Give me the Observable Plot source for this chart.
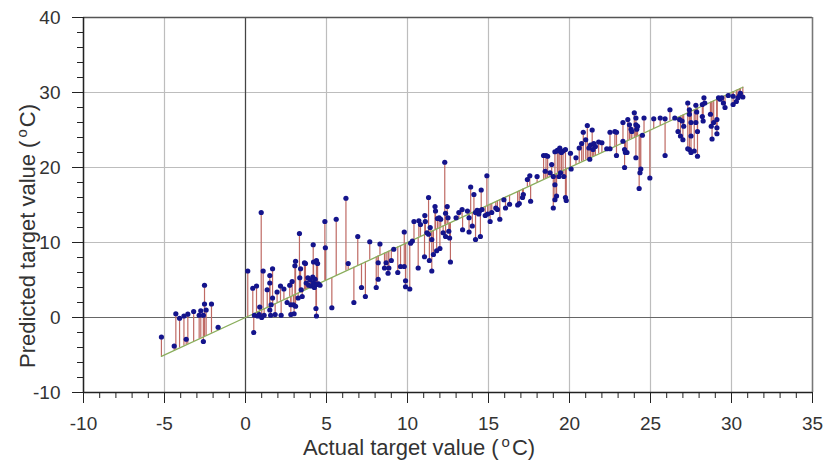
<!DOCTYPE html>
<html><head><meta charset="utf-8">
<script src="https://cdn.jsdelivr.net/npm/d3@7"></script>
<script src="https://cdn.jsdelivr.net/npm/@observablehq/plot@0.6"></script>
<style>body{margin:0;background:#fff;} #chart svg{display:block;}</style>
</head><body><div id="chart"></div>
<script>
const actual = [
-5.19,-4.4,-4.3,-4.07,-3.8,-3.66,-3.56,-3.2,-2.86,-2.76,-2.6,-2.53,-2.53,-2.43,-2.6,-2.1,-1.69,
0.14,0.45,0.51,0.55,0.68,0.75,0.85,0.88,0.97,1.0,1.09,1.15,1.34,1.5,1.5,1.5,1.55,1.58,1.67,1.67,1.83,1.95,2.16,2.2,2.37,2.57,2.73,2.8,2.8,2.88,2.96,3.05,3.09,3.09,3.0,3.25,3.33,3.35,3.4,3.44,3.5,3.64,3.7,3.75,3.85,3.9,4.0,4.05,4.15,4.2,4.25,4.3,4.4,4.5,4.6,4.18,4.2,4.38,4.45,4.35,4.38,4.9,4.93,
5.33,5.6,6.2,6.34,6.69,6.93,7.16,7.4,7.67,8.07,8.19,8.19,8.3,8.58,8.68,8.8,8.85,9.0,9.15,9.4,9.57,9.8,9.88,9.88,9.8,
10.14,10.19,10.3,10.4,10.66,10.7,10.8,11.05,11.07,11.1,11.2,11.3,11.3,11.35,11.4,11.5,11.5,11.6,11.7,11.73,11.8,11.85,11.95,12.0,12.05,12.2,12.3,12.35,12.35,12.45,12.5,12.55,12.6,12.65,13.0,13.17,13.37,13.4,13.7,13.8,13.8,13.9,14.0,14.1,14.2,14.2,14.3,14.4,14.45,14.55,14.6,14.5,14.8,14.9,14.95,15.1,15.2,15.45,15.55,15.7,15.95,16.05,16.3,16.8,16.9,17.1,17.15,17.4,17.55,17.6,18.0,
18.4,18.55,18.65,18.5,18.8,18.9,19.0,19.0,19.1,19.1,19.2,19.1,19.25,19.3,19.35,19.4,19.45,19.5,19.6,19.65,19.75,19.75,19.8,
20.06,20.1,20.4,20.6,20.75,20.85,21.0,21.1,21.2,21.25,21.3,21.4,21.45,21.5,21.6,21.8,22.0,22.3,22.5,22.5,22.8,22.9,22.9,23.3,23.3,23.4,23.45,23.4,23.55,23.6,23.7,23.8,23.85,24.0,24.1,24.1,24.15,24.1,24.2,24.35,24.4,24.3,24.5,24.6,24.96,
25.2,25.6,25.9,25.9,26.2,26.5,26.7,26.8,26.95,26.85,27.05,27.0,27.3,27.4,27.4,27.5,27.4,27.5,27.3,27.5,27.8,27.8,27.85,27.9,27.7,27.9,28.2,28.2,28.3,28.25,28.35,28.7,28.75,28.8,28.9,29.1,29.1,29.1,29.2,29.3,29.4,29.5,29.6,29.8,30.1,30.1,30.3,30.4,30.5,30.55,30.7
];
const predicted = [
-2.6,-3.8,0.5,-0.1,0.2,-2.9,0.45,0.8,0.3,0.9,-3.2,4.3,1.8,1.0,0.3,1.8,-1.3,
6.2,3.9,-2.0,0.3,4.2,0.2,0.4,1.4,14.0,0.0,6.2,0.3,3.7,4.6,5.6,1.0,0.3,1.7,6.5,2.6,0.4,3.4,4.2,0.3,3.8,2.0,4.3,1.7,0.4,4.8,1.7,6.9,7.5,1.5,0.5,2.6,11.2,5.3,6.5,3.7,2.8,7.3,7.2,4.6,5.3,4.3,5.0,4.2,5.4,4.6,4.0,5.1,4.4,4.5,4.3,9.7,7.4,7.6,7.2,1.2,0.2,12.8,9.3,
1.3,13.1,15.9,7.2,2.0,10.8,4.0,2.8,10.1,4.0,5.1,7.3,9.8,6.6,7.3,5.9,6.6,7.6,9.1,6.0,6.8,11.4,4.9,4.1,6.8,
3.8,9.9,10.2,12.8,6.6,12.9,12.4,8.1,13.6,12.8,11.3,11.1,16.0,7.6,12.0,6.2,10.4,8.4,14.8,14.2,8.9,13.2,13.3,9.2,13.1,11.3,20.7,13.9,10.8,14.8,13.3,11.5,10.6,7.4,13.3,14.0,14.4,11.7,14.2,11.4,13.3,17.4,12.2,16.4,10.4,14.0,14.3,13.8,14.2,17.0,14.4,10.8,13.6,18.9,13.8,12.8,14.0,14.6,14.4,13.1,15.7,14.6,15.1,15.0,15.2,16.0,16.4,18.4,18.9,15.5,18.8,
21.6,21.6,21.5,19.5,19.3,20.4,18.8,14.6,17.7,15.7,16.2,22.1,22.3,22.2,18.8,22.6,19.3,22.0,22.2,18.8,22.4,16.0,15.6,
21.9,19.8,21.3,22.6,23.2,24.7,23.7,25.6,22.6,21.1,23.0,25.0,22.4,23.2,22.8,23.4,23.3,22.5,22.5,24.7,24.8,24.7,21.6,26.0,23.5,22.4,22.0,20.0,22.0,26.4,25.7,25.1,24.8,27.3,26.6,25.7,25.1,21.3,25.5,19.3,19.8,17.2,24.3,26.6,18.6,
26.5,26.6,21.6,26.5,27.7,26.6,24.8,26.4,26.2,24.2,25.5,23.7,28.6,27.7,27.1,26.0,22.4,22.0,22.5,24.2,28.3,26.0,27.4,21.5,22.2,24.8,28.4,26.8,29.3,26.2,28.6,27.1,25.5,23.8,26.0,24.5,25.3,26.4,29.3,29.1,29.3,28.6,28.0,29.6,29.5,28.4,28.8,29.3,29.6,29.9,29.4
];
const xTicks = [-10,-5,0,5,10,15,20,25,30,35];
const yTicks = [-10,0,10,20,30,40];
const xMinor = d3.range(-10, 36, 1);
const yMinor = d3.range(-10, 41, 2);
const xTitle = ["Actual target value (", "o", "C)"];
const yTitle = ["Predicted target value (", "o", "C)"];

const data = actual.map((a, i) => ({a, p: predicted[i]}));
const ext = d3.extent(actual);
const diag = [{v: ext[0]}, {v: ext[1]}];
const fmt = d => String(d);

const chart = Plot.plot({
  width: 826, height: 467,
  marginLeft: 83, marginRight: 14, marginTop: 17, marginBottom: 75,
  style: {fontFamily: "'Liberation Sans', Arial, sans-serif", fontSize: "19px", color: "#222", background: "#fff"},
  x: {domain: [-10, 35]},
  y: {domain: [-10, 40]},
  marks: [
    Plot.gridX(xTicks, {stroke: "#bdbdbd", strokeOpacity: 1, strokeWidth: 1.2}),
    Plot.gridY(yTicks, {stroke: "#bdbdbd", strokeOpacity: 1, strokeWidth: 1.2}),
    Plot.ruleX([0], {stroke: "#444", strokeWidth: 1.2}),
    Plot.ruleY([0], {stroke: "#666", strokeWidth: 1.2}),
    Plot.ruleY([40], {stroke: "#555", strokeWidth: 1.5}),
    Plot.ruleX([35], {stroke: "#777", strokeWidth: 1.5}),
    Plot.ruleX(data, {x: "a", y1: "a", y2: "p", stroke: "#bf6a64", strokeWidth: 1.2}),
    Plot.line(diag, {x: "v", y: "v", stroke: "#8aae5c", strokeWidth: 1.3}),
    Plot.dot(data, {x: "a", y: "p", r: 2.6, fill: "#14148c", stroke: "none"}),
    Plot.ruleX([-10], {stroke: "#222", strokeWidth: 1.5}),
    Plot.ruleY([-10], {stroke: "#222", strokeWidth: 1.5}),
    Plot.axisX(xMinor, {tickSize: 6, text: null, stroke: "#222"}),
    Plot.axisX(xTicks, {tickSize: 11, tickPadding: 13, stroke: "#222", fill: "#333", label: null, tickFormat: fmt}),
    Plot.axisY(yMinor, {tickSize: 6, text: null, stroke: "#222"}),
    Plot.axisY(yTicks, {tickSize: 11, tickPadding: 12, stroke: "#222", fill: "#333", label: null, tickFormat: fmt})
  ]
});
document.getElementById("chart").appendChild(chart);

const svg = d3.select(chart);
function addTitle(parts, x, y, rotate) {
  const t = svg.append("text")
    .attr("transform", `translate(${x},${y})` + (rotate ? " rotate(-90)" : ""))
    .attr("text-anchor", "middle")
    .attr("font-family", "'Liberation Sans', Arial, sans-serif")
    .attr("font-size", 22)
    .attr("fill", "#333");
  t.append("tspan").text(parts[0]);
  t.append("tspan").attr("dx", 3).attr("dy", -8).attr("font-size", 15).text(parts[1]);
  t.append("tspan").attr("dx", 2).attr("dy", 8).text(parts[2]);
}
addTitle(xTitle, 419, 455, false);
addTitle(yTitle, 35, 236, true);
</script>
</body></html>
